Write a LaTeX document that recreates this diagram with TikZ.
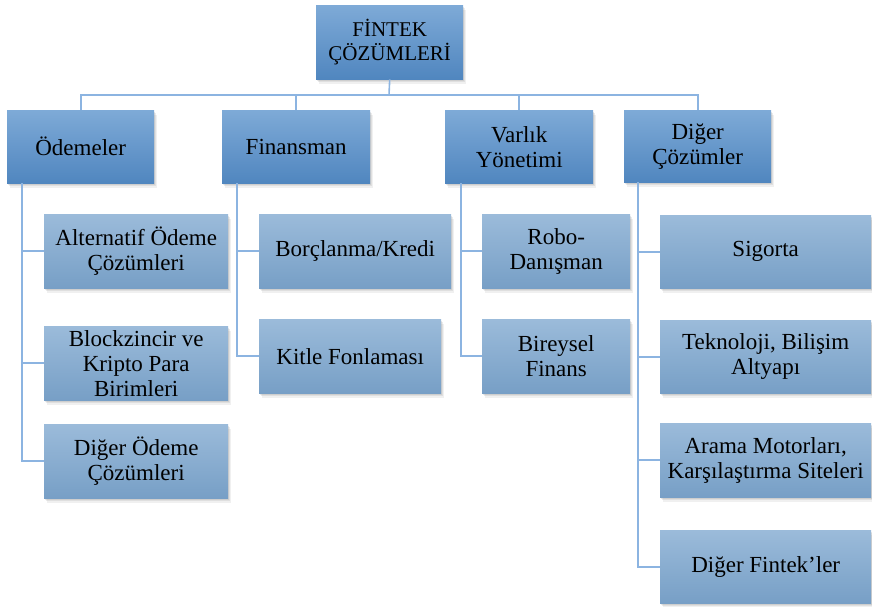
\documentclass[tikz,border=0pt]{standalone}
\usepackage{fontspec}
\setmainfont{Liberation Serif}
\usetikzlibrary{shadows}
\definecolor{lvtop}{HTML}{7EAAD7}
\definecolor{lvbot}{HTML}{5086BF}
\definecolor{chtop}{HTML}{9BBBDA}
\definecolor{chbot}{HTML}{779FC6}
\definecolor{conn}{HTML}{8CB4E1}
\begin{document}
\begin{tikzpicture}[x=1pt,y=-1pt,
  basebox/.style={rectangle, inner sep=0pt, align=center, anchor=north west,
    drop shadow={opacity=0.12, shadow xshift=3pt, shadow yshift=-4.5pt},
    drop shadow={opacity=0.15, shadow xshift=2pt, shadow yshift=-3pt},
    drop shadow={opacity=0.18, shadow xshift=1pt, shadow yshift=-1.5pt}},
  mainbox/.style={basebox, top color=lvtop, bottom color=lvbot, font=\fontsize{23}{25}\selectfont},
  topbox/.style={basebox, top color=lvtop, bottom color=lvbot, font=\fontsize{21}{24}\selectfont},
  childbox/.style={basebox, top color=chtop, bottom color=chbot, font=\fontsize{23}{25}\selectfont},
  link/.style={draw=conn, line width=1.6pt},
]
\useasboundingbox (0,0) rectangle (872,606);

\coordinate (bus) at (389,95);

% top
\node[topbox, minimum width=147pt, minimum height=74pt] (top) at (316,5) {FİNTEK\\ÇÖZÜMLERİ};

% level 1
\node[mainbox, minimum width=147pt, minimum height=73pt] (a) at (7,110) {Ödemeler};
\node[mainbox, minimum width=148pt, minimum height=73pt] (b) at (222,110) {Finansman};
\node[mainbox, minimum width=148pt, minimum height=73pt] (c) at (445,110) {Varlık\\Yönetimi};
\node[mainbox, minimum width=147pt, minimum height=72pt] (d) at (624,110) {Diğer\\Çözümler};

% children of a
\node[childbox, minimum width=184pt, minimum height=74pt] (a1) at (44,214) {Alternatif Ödeme\\Çözümleri};
\node[childbox, minimum width=184pt, minimum height=74pt] (a2) at (44,326) {Blockzincir ve\\Kripto Para\\Birimleri};
\node[childbox, minimum width=184pt, minimum height=74pt] (a3) at (44,424) {Diğer Ödeme\\Çözümleri};

% children of b
\node[childbox, minimum width=192pt, minimum height=74pt] (b1) at (259,214) {Borçlanma/Kredi};
\node[childbox, minimum width=182pt, minimum height=74pt] (b2) at (259,319) {Kitle Fonlaması};

% children of c
\node[childbox, minimum width=148pt, minimum height=74pt] (c1) at (482,214) {Robo-\\Danışman};
\node[childbox, minimum width=148pt, minimum height=74pt] (c2) at (482,319) {Bireysel\\Finans};

% children of d
\node[childbox, minimum width=211pt, minimum height=73pt] (d1) at (660,215) {Sigorta};
\node[childbox, minimum width=211pt, minimum height=73pt] (d2) at (660,320) {Teknoloji, Bilişim\\Altyapı};
\node[childbox, minimum width=211pt, minimum height=74pt] (d3) at (660,423) {Arama Motorları,\\Karşılaştırma Siteleri};
\node[childbox, minimum width=211pt, minimum height=73pt] (d4) at (660,530) {Diğer Fintek’ler};

% connectors
\path[link] (top.south) -- (bus);
\path[link] (a.north) |- (bus) -| (d.north);
\path[link] (b.north) -- (b.north |- bus);
\path[link] (c.north) -- (c.north |- bus);

\path[link] ([xshift=15pt]a.south west) |- (a1.west);
\path[link] ([xshift=15pt]a.south west) |- (a2.west);
\path[link] ([xshift=15pt]a.south west) |- (a3.west);

\path[link] ([xshift=15pt]b.south west) |- (b1.west);
\path[link] ([xshift=15pt]b.south west) |- (b2.west);

\path[link] ([xshift=16pt]c.south west) |- (c1.west);
\path[link] ([xshift=16pt]c.south west) |- (c2.west);

\path[link] ([xshift=14pt]d.south west) |- (d1.west);
\path[link] ([xshift=14pt]d.south west) |- (d2.west);
\path[link] ([xshift=14pt]d.south west) |- (d3.west);
\path[link] ([xshift=14pt]d.south west) |- (d4.west);
\end{tikzpicture}
\end{document}
